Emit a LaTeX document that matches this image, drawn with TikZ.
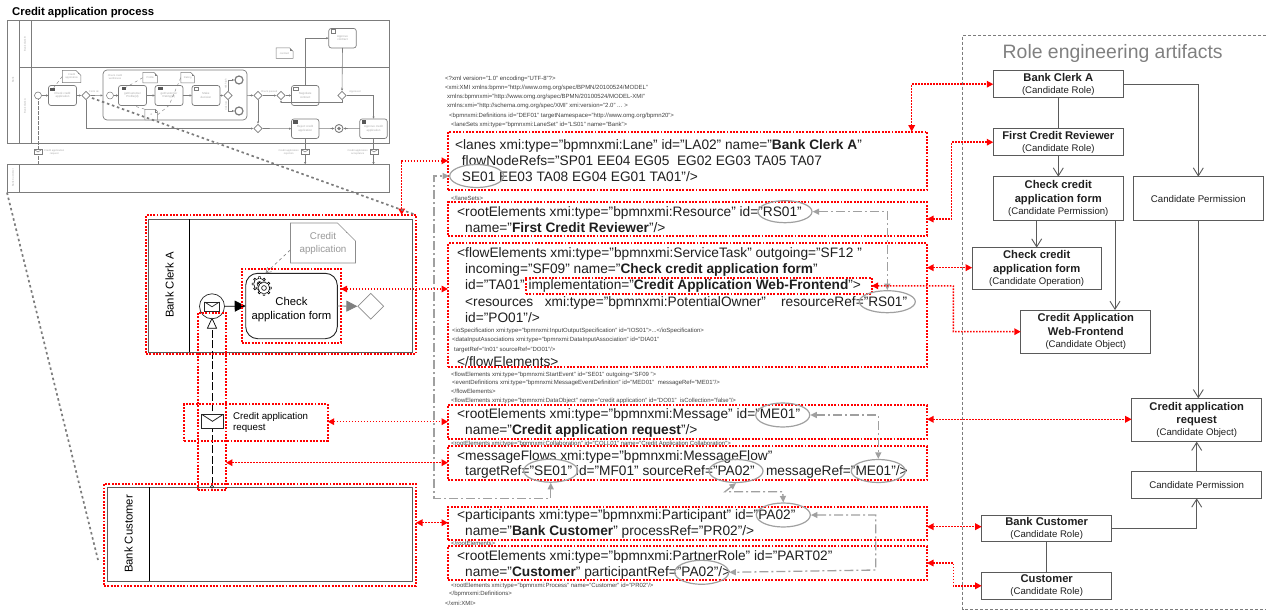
\documentclass[tikz,border=0pt]{standalone}
\usepackage{fontspec}
\setmainfont{Liberation Sans}
\usetikzlibrary{arrows.meta,shapes.geometric,shapes.misc}
\definecolor{lanegray}{HTML}{5A5A5A}
\definecolor{thumbline}{HTML}{7C7C7C}
\definecolor{thumbtext}{HTML}{A8A8A8}
\definecolor{refgray}{HTML}{A0A0A0}
\tikzset{
  plainbox/.style={draw,rectangle,inner sep=0pt,outer sep=0pt},
  redbox/.style={plainbox,draw=red,line width=1.8pt,dash pattern=on 1.9pt off 1.4pt},
  redlink/.style={<->,>={Triangle[length=6.5pt,width=6.5pt]},red,line width=1.5pt,dash pattern=on 1.6pt off 1.4pt},
  reflink/.style={<->,>={Triangle[length=6.5pt,width=6pt]},refgray,line width=1.3pt,dash pattern=on 9pt off 3pt on 2pt off 3pt},
  refoval/.style={draw=refgray,ellipse,line width=1.2pt,inner sep=0pt},
  bigline/.style={anchor=base west,inner sep=0pt,font=\fontsize{13.7}{15}\selectfont,text=black!88},
  smallline/.style={anchor=base west,inner sep=0pt,font=\fontsize{6}{7}\selectfont,text=black!75},
  rolebox/.style={plainbox,draw=lanegray,line width=0.9pt,align=center,font=\fontsize{11.2}{13.6}\selectfont\bfseries,text=black!88},
  rolearrow/.style={-{Straight Barb[length=8pt,width=10pt]},lanegray,line width=0.9pt},
  roleline/.style={lanegray,line width=0.9pt},
  gaplink/.style={thumbline,line width=1.7pt,dash pattern=on 2.5pt off 2.8pt},
  mailbox/.style={draw,rectangle,inner sep=0pt,fill=white,path picture={
    \draw (path picture bounding box.north west) -- (path picture bounding box.center) -- (path picture bounding box.north east);}},
  dataobj/.style={draw,chamfered rectangle,chamfered rectangle corners=north east,chamfered rectangle xsep=#1,chamfered rectangle ysep=#1,inner sep=0pt,fill=white,align=center,path picture={
    \draw ([xshift=-#1]path picture bounding box.north east) -- ([xshift=-#1,yshift=-#1]path picture bounding box.north east) -- ([yshift=-#1]path picture bounding box.north east);}},
  tinybox/.style={plainbox,draw=thumbline,line width=0.7pt,rounded corners=2.5pt,fill=white,align=center,font=\fontsize{2.9}{3.4}\selectfont,text=thumbtext},
  tinygate/.style={draw=thumbline,diamond,line width=0.6pt,inner sep=0pt,minimum width=8.5pt,minimum height=8.5pt,fill=white},
  tinytext/.style={inner sep=0pt,align=center,font=\fontsize{2.6}{3.1}\selectfont,text=thumbtext},
  tinyflow/.style={-{Latex[length=2.4pt,width=2.4pt]},thumbline,line width=0.6pt},
  tinyassoc/.style={thumbline,line width=0.4pt,dashed},
  tinylane/.style={plainbox,draw=thumbline,line width=0.8pt},
  tinymail/.style={mailbox,draw=thumbline,line width=0.5pt,minimum width=7.5pt,minimum height=5pt}
}
\begin{document}
\begin{tikzpicture}[x=1pt,y=-1pt]
  \useasboundingbox (0,0) rectangle (1266,610);
  \node[anchor=base west,inner sep=0pt,font=\fontsize{11.3}{13}\selectfont\bfseries] (title) at (12,15.5) {Credit application process};

  \foreach \nm/\x/\y/\w/\h in {tpool/13.2/81.9/12.5/122.4,tlaneb/204.2/44.1/369.5/46.8,tlanea/204.2/105.5/369.5/76,tcust/198/178.5/382/28} {
    \node[tinylane,minimum width=\w pt,minimum height=\h pt] (\nm) at (\x,\y) {};
  }
  \draw[thumbline,line width=0.8pt] (tlaneb.north -| 31.5,0) -- (tlanea.south -| 31.5,0);
  \draw[thumbline,line width=0.8pt] (tcust.north -| 19,0) -- (tcust.south -| 19,0);
  \foreach \nm/\x/\y/\txt in {lpool/13/80/Bank,lclerkb/25/44/Bank Clerk B,lclerka/25/106/Bank Clerk A,lcust/13/178/Bank Customer} {
    \node[tinytext,rotate=90] (\nm) at (\x,\y) {\txt};
  }
  \node[tinybox,rounded corners=4pt,minimum width=144pt,minimum height=50pt] (tsub) at (175,95) {};
  \foreach \nm/\x/\y/\w/\h/\txt in {tcheck/62.5/95.5/28/20/{Check credit\\application},tprof/132.5/95.5/28/20/{getCustomer\\Profile(id)},trate/169/95.5/28/20/{getCustomer\\Rating(id)},tmake/206/95.5/28/20/{Make\\decision},tnego/305.2/95.5/27.5/20/{Negotiate\\contract},tappr/342.5/38.2/27.5/19.5/{Approve\\contract},treject/305.2/128.7/27.5/19.5/{Reject credit\\application},taccept/373.5/128.7/27.5/19.5/{Approve credit\\application}} {
    \node[tinybox,minimum width=\w pt,minimum height=\h pt] (\nm) at (\x,\y) {\txt};
  }
  \foreach \nm/\x/\y in {igeara/52.5/89.5,iprofa/124/88.5,iratea/160.5/88.5,irejct/295.5/122,iaccpt/364/122} {
    \node[plainbox,fill=thumbline!70!black,draw=none,minimum width=4.5pt,minimum height=3.5pt] (\nm) at (\x,\y) {};
  }
  \foreach \nm/\x/\y in {imake/196/88.5,inego/295.5/88.5,iappr/333/31.5} {
    \node[plainbox,draw=thumbline,line width=0.5pt,fill=white,minimum width=4.5pt,minimum height=3.5pt] (\nm) at (\x,\y) {};
  }
  \foreach \nm/\x/\y in {tgwa/86/95.5,tgwb/228/95.5,tgwc/258/95.5,tgwd/281/95.5,tgwe/342/95.5,tgwf/258/128.5} {
    \node[tinygate] (\nm) at (\x,\y) {};
  }
  \foreach \nm/\x/\y/\w/\h/\txt in {tdata/71.7/76.5/18.5/12/{Credit\\application},tprofd/150.2/77.7/14.5/10.5/Profile,trated/187.7/77.7/13.5/10.5/Rating,tidd/151.2/114.7/12.5/10.5/id,tcontr/284.5/53.2/17/10.5/contract} {
    \node[dataobj=2.5pt,draw=thumbline,line width=0.5pt,text=thumbtext,font=\fontsize{2.6}{3.1}\selectfont,minimum width=\w pt,minimum height=\h pt] (\nm) at (\x,\y) {\txt};
  }
  \node[draw=thumbline,circle,line width=0.6pt,fill=white,minimum size=7pt,inner sep=0pt] (tstart) at (38,95.5) {};
  \node[draw=thumbline,circle,line width=0.5pt,fill=white,minimum size=7pt,inner sep=0pt] (tinner) at (110,95.5) {};
  \foreach \nm/\x/\y in {tenda/239/80,tendb/239/111} {
    \node[draw=thumbline,circle,line width=1.2pt,fill=white,minimum size=8pt,inner sep=0pt] (\nm) at (\x,\y) {};
  }
  \node[draw=thumbline,circle,line width=0.9pt,fill=white,minimum size=8pt,inner sep=0pt,path picture={\fill[thumbline] (path picture bounding box.center) circle (1.8pt);}] (tendc) at (339,128.5) {};
  \foreach \nm/\x/\y/\txt in {lchk/115/77/{Check credit\\worthiness},lform/94/92/Form ok,lpass/269/92/Check passed,lappr/355/92/Approved} {
    \node[tinytext] (\nm) at (\x,\y) {\txt};
  }
  \foreach \nm/\x/\y/\txt in {lhigh/226/84/risk high,llow/226/106/risk low} {
    \node[tinytext,rotate=90] (\nm) at (\x,\y) {\txt};
  }
  \foreach \a/\b in {tstart/tcheck,tcheck/tgwa,tgwa/tsub,tinner/tprof,tprof/trate,trate/tmake,tmake/tgwb,tsub/tgwc,tgwc/tgwd,tgwd/tnego,tgwf/treject,treject/tendc,taccept/tendc,tgwc/tgwf} {
    \draw[tinyflow] (\a) -- (\b);
  }
  \draw[tinyflow] (tgwb) |- (tenda);
  \draw[tinyflow] (tgwb) |- (tendb);
  \draw[tinyflow] (tnego.north) |- (tappr.west);
  \draw[tinyflow] (tappr.south) -- (tgwe.north);
  \draw[tinyflow] (tgwe.south) -- (342,102) -- (281,102) -- (tgwd.south);
  \draw[tinyflow] (tgwe.east) -| (taccept.north);
  \draw[tinyflow] (tgwa.south) |- (tgwf.west);
  \foreach \a/\b in {tdata.west/igeara,tprofd.west/iprofa,trated.west/trate.south,tidd.north west/tprof.south,tidd.east/trate.south} {
    \draw[tinyassoc] (\a) -- (\b);
  }
  \draw[thumbline,line width=0.8pt,dash pattern=on 4pt off 1pt] (tcust.north -| tstart) -- (tstart.south);
  \draw[tinyflow] (treject.south) -- (tcust.north -| treject);
  \draw[tinyflow] (taccept.south) -- (tcust.north -| taccept);
  \foreach \nm/\x in {tmaila/38,tmailb/305,tmailc/374} {
    \node[tinymail] (\nm) at (\x,152) {};
  }
  \foreach \nm/\x/\an/\txt in {lmaila/44/west/{Credit application\\request},lmailb/299/east/{Credit application\\rejection},lmailc/368/east/{Credit application\\acceptance}} {
    \node[tinytext,anchor=\an] (\nm) at (\x,152) {\txt};
  }

  \node[plainbox,draw=lanegray,line width=1pt,minimum width=264.2pt,minimum height=133pt] (lanea) at (280.6,285.5) {};
  \draw[black,line width=0.8pt] (lanea.north -| 189.7,0) -- (lanea.south -| 189.7,0);
  \node[rotate=90,inner sep=0pt,font=\fontsize{11.3}{13}\selectfont] (lanealabel) at (169.5,285) {Bank Clerk A};
  \node[dataobj=9pt,draw=black!45,line width=0.7pt,text=black!40,font=\fontsize{9.8}{13}\selectfont,minimum width=60pt,minimum height=37.7pt] (creditdata) at (323,243) {Credit\\application};
  \node[plainbox,draw=black!85,line width=0.9pt,rounded corners=12pt,minimum width=91.6pt,minimum height=65.4pt] (checktask) at (291.5,306) {};
  \node[inner sep=0pt,align=center,font=\fontsize{11.3}{14}\selectfont] (checklabel) at (291.5,310) {Check\\application form};
  \draw[gray,dashed,line width=0.6pt,-{Straight Barb[length=5pt,width=6pt]}] ([yshift=-7pt]creditdata.west) -- ([xshift=-26pt]checktask.north);
  \foreach \x/\y in {259.5/284,264/288} {
    \draw[fill=white,line width=0.6pt] (\x,\y) ++(0:5.6) foreach \a in {0,45,...,315} { -- ([shift={(\x,\y)}]\a-8:5.6) -- ([shift={(\x,\y)}]\a-7:7.4) -- ([shift={(\x,\y)}]\a+7:7.4) -- ([shift={(\x,\y)}]\a+8:5.6)} -- cycle;
    \draw[line width=0.6pt] (\x,\y) circle (2.4);
  }
  \node[diamond,line width=0.7pt,draw=black!45,inner sep=0pt,minimum width=26pt,minimum height=26pt] (gateway) at (370.7,306.3) {};
  \node[draw=black!85,circle,line width=0.7pt,fill=white,minimum size=25pt,inner sep=0pt] (startmsg) at (212,306.3) {};
  \node[mailbox,draw=black!85,line width=0.7pt,minimum width=14.7pt,minimum height=9.7pt] (startmail) at (212,306.8) {};
  \draw[-{Triangle[length=11pt,width=11pt]},line width=0.8pt] (startmsg.east) -- (checktask.west);
  \draw[-{Triangle[length=11pt,width=11pt]},black!50,line width=0.8pt] (checktask.east) -- (gateway.west);

  \node[plainbox,draw=lanegray,line width=1pt,minimum width=304.6pt,minimum height=93.7pt] (lanec) at (260,534.2) {};
  \draw[black,line width=0.8pt] (lanec.north -| 149,0) -- (lanec.south -| 149,0);
  \node[rotate=90,inner sep=0pt,font=\fontsize{11.3}{13}\selectfont] (lanecLabel) at (128.5,534) {Bank Customer};
  \node[circle,draw,fill=white,line width=0.5pt,minimum size=3pt,inner sep=0pt] (flowdot) at (212,486.7) {};
  \coordinate (flowtip) at (212,317.5);
  \draw[-{Triangle[open,length=11pt,width=10pt,fill=white]},line width=0.7pt,dash pattern=on 8pt off 2.5pt] (flowdot) -- (flowtip);
  \node[mailbox,draw=black!85,line width=0.8pt,minimum width=21.6pt,minimum height=14pt] (flowmail) at (212.5,421.3) {};
  \node[anchor=west,inner sep=0pt,align=left,font=\fontsize{9.7}{11.8}\selectfont] (flowlabel) at (233,422.5) {Credit application\\request};

  \foreach \nm/\x/\y/\w/\h in {rlane/281/284.5/270/139,rtask/291.2/306/99/74,rflow/211.8/401.3/28.3/177.3,rlabel/256/422.3/143.4/36.7,rcust/260/534.8/312/101.7,rxa/687.5/160.8/479/58.3,rxb/687.5/219/479/33.7,rxc/687.5/305.3/479/124,rxd/687.5/422/479/34,rxe/687.5/463/479/34,rxf/687.5/523.3/479/33.3,rxg/687.5/563/479/34,rimpl/698.8/285.8/345.7/16.3} {
    \node[redbox,minimum width=\w pt,minimum height=\h pt] (\nm) at (\x,\y) {};
  }

  \foreach \x/\y/\txt [count=\i] in {
    445/81/{<?xml version="1.0" encoding="UTF-8"?>},
    445/89.5/{<xmi:XMI xmlns:bpmn="http://www.omg.org/spec/BPMN/20100524/MODEL"},
    447/98.5/{xmlns:bpmnxmi="http://www.omg.org/spec/BPMN/20100524/MODEL-XMI"},
    447/107/{xmlns:xmi="http://schema.omg.org/spec/XMI" xmi:version="2.0" ... >},
    449/117/{<bpmnxmi:Definitions id="DEF01" targetNamespace="http://www.omg.org/bpmn20">},
    451/126/{<laneSets xmi:type="bpmnxmi:LaneSet" id="LS01" name="Bank">},
    451/200.7/{</laneSets>},
    452/332.7/{<ioSpecification xmi:type="bpmnxmi:InputOutputSpecification" id="IOS01">...</ioSpecification>},
    452/341.7/{<dataInputAssociations xmi:type="bpmnxmi:DataInputAssociation" id="DIA01"},
    454/351/{targetRef="In01" sourceRef="DO01"/>},
    451/376/{<flowElements xmi:type="bpmnxmi:StartEvent" id="SE01" outgoing="SF09 ">},
    452/384.7/{<eventDefinitions xmi:type="bpmnxmi:MessageEventDefinition" id="MED01"~ messageRef="ME01"/>},
    451/393.7/{</flowElements>},
    451/402.7/{<flowElements xmi:type="bpmnxmi:DataObject" name="credit application" id="DO01"~ isCollection="false"/>},
    451/445/{<rootElements xmi:type="bpmnxmi:Collaboration" id="COLL01" name="Credit Application Collaboration">},
    451/545.7/{</rootElements>},
    451/587/{<rootElements xmi:type="bpmnxmi:Process" name="Customer" id="PR02"/>},
    449/595.7/{</bpmnxmi:Definitions>},
    445/605/{</xmi:XMI>}} {
    \node[smallline] (xs\i) at (\x,\y) {\txt};
  }
  \foreach \x/\y/\txt [count=\i] in {
    455/149.5/{<lanes xmi:type="bpmnxmi:Lane" id="LA02" name="\textbf{Bank Clerk A}"},
    461.7/165/{flowNodeRefs="SP01 EE04 EG05~ EG02 EG03 TA05 TA07},
    461.7/181.5/{SE01 EE03 TA08 EG04 EG01 TA01"/>},
    457/216/{<rootElements xmi:type="bpmnxmi:Resource" id="RS01"},
    465/232/{name="\textbf{First Credit Reviewer}"/>},
    457/257.5/{<flowElements xmi:type="bpmnxmi:ServiceTask" outgoing="SF12 "},
    465/273.5/{incoming="SF09" name="\textbf{Check credit application form}"},
    465/289.5/{id="TA01" implementation="\textbf{Credit Application Web-Frontend}">},
    465/306/{<resources \ \ xmi:type="bpmnxmi:PotentialOwner" \ \ \ resourceRef="RS01"},
    465/322.5/{id="PO01"/>},
    457/366/{</flowElements>},
    457/418.3/{<rootElements xmi:type="bpmnxmi:Message" id="ME01"},
    465/434.3/{name="\textbf{Credit application request}"/>},
    457/460/{<messageFlows xmi:type="bpmnxmi:MessageFlow"},
    465/475.5/{targetRef="SE01" id="MF01" sourceRef="PA02" \ \ messageRef="ME01"/>},
    457/519.3/{<participants xmi:type="bpmnxmi:Participant" id="PA02"},
    465/535/{name="\textbf{Bank Customer}" processRef="PR02"/>},
    457/560.3/{<rootElements xmi:type="bpmnxmi:PartnerRole" id="PART02"},
    465/576.5/{name="\textbf{Customer}" participantRef="PA02"/>}} {
    \node[bigline] (xb\i) at (\x,\y) {\txt};
  }

  \foreach \nm/\x/\y/\w/\h in {ovsea/476.7/176/54/23,ovrsa/785/211.7/54/22,ovrsb/887.3/301.7/56/22,ovmea/782.7/415/54/24,ovseb/550.7/470.7/54/23,ovpaa/736/471/54/23,ovmeb/878.3/471/54/23,ovpab/783.3/515/54/24,ovpac/701.7/572.3/54/24} {
    \node[refoval,minimum width=\w pt,minimum height=\h pt] (\nm) at (\x,\y) {};
  }
  \draw[reflink] (ovseb.south) -- (550.7,498.3) -- (434,498.3) -- (434,176) -- (ovsea.west);
  \draw[reflink] (ovrsa.east) -| (ovrsb.north);
  \draw[reflink] (ovmea.east) -| (ovmeb.north);
  \draw[reflink] (ovpaa.south) -- (725,491.7) -- (782.7,491.7) -- (ovpab.north);
  \draw[reflink] (ovpab.east) -- (875.7,515) -- (875.7,570) -- (ovpac.east);

  \node[font=\fontsize{19.4}{22}\selectfont,text=black!50,inner sep=0pt] (paneltitle) at (1112.7,53) {Role engineering artifacts};
  \coordinate (panelne) at (1266,35);
  \coordinate (panelsw) at (962.7,609);
  \draw[thumbline,line width=0.9pt,dash pattern=on 3pt off 2pt] (panelne) -- (panelne -| panelsw) -- (panelsw) -- (panelsw -| panelne);

  \foreach \nm/\x/\y/\w/\h/\txt/\kind in {
    bclerk/1058.3/84.2/130/27/{Bank Clerk A}/{Candidate Role},
    frev/1058.3/142.2/130/27/{First Credit Reviewer}/{Candidate Role},
    chperm/1058.3/198.7/130/44/{Check credit\\application form}/{Candidate Permission},
    chop/1036.7/268.3/129/41.3/{Check credit\\application form}/{Candidate Operation},
    webfr/1085.8/331.7/130/43.3/{Credit Application\\Web-Frontend}/{Candidate Object},
    credreq/1196.7/420/130/43.3/{Credit application\\request}/{Candidate Object},
    bcust/1046.7/528.3/130/26.7/{Bank Customer}/{Candidate Role},
    custr/1046.7/585.8/130/27/{Customer}/{Candidate Role}} {
    \node[rolebox,minimum width=\w pt,minimum height=\h pt] (\nm) at (\x,\y) {\txt\\[-1.5pt]{\fontsize{9.6}{11}\selectfont\mdseries(\kind)}};
  }
  \foreach \nm/\x/\y/\w/\h in {cperma/1198.3/198.7/130/44,cpermb/1196.7/485/130/26.7} {
    \node[rolebox,minimum width=\w pt,minimum height=\h pt,font=\fontsize{9.7}{11}\selectfont] (\nm) at (\x,\y) {Candidate Permission};
  }
  \draw[roleline] (bclerk) -- (frev);
  \draw[roleline] (bcust) -- (custr);
  \draw[rolearrow] (frev) -- (chperm);
  \draw[rolearrow] (bclerk.east) -| (cperma.north);
  \draw[rolearrow] (chop.north |- chperm.south) -- (chop.north);
  \draw[rolearrow] (1115,220.7) -- (webfr.north -| 1115,0);
  \draw[rolearrow] (cperma.south) -- (credreq.north -| cperma.south);
  \draw[rolearrow] (cpermb) -- (credreq);
  \draw[rolearrow] (bcust.east) -| (cpermb.south);

  \foreach \a/\b/\y in {rtask.east/rxc.west/289,rlabel.east/rxd.west/421.7,rflow.east/rxe.west/462.7,rcust.east/rxf.west/522.7,rxc.east/chop.west/267.7,rxd.east/credreq.west/419.3,rxf.east/bcust.west/526.7} {
    \draw[redlink] (\a |- 0,\y) -- (\b |- 0,\y);
  }
  \draw[redlink] (rxa.north -| 911.7,0) |- (bclerk.west);
  \draw[redlink] (rxb.east) -- (951.7,219) |- (frev.west);
  \draw[redlink] (rimpl.east) -- (953.3,286) |- (webfr.west);
  \draw[redlink] (rxg.east) -- (953.3,563) |- (custr.west);
  \draw[redlink] (rlane.north -| 401.7,0) |- (rxa.west);

  \coordinate (gapa) at (92,98);
  \coordinate (gapb) at (98,560);
  \draw[gaplink] (gapa) -- (rlane.north east);
  \draw[gaplink] (tcust.south west) -- (gapb);
\end{tikzpicture}
\end{document}
